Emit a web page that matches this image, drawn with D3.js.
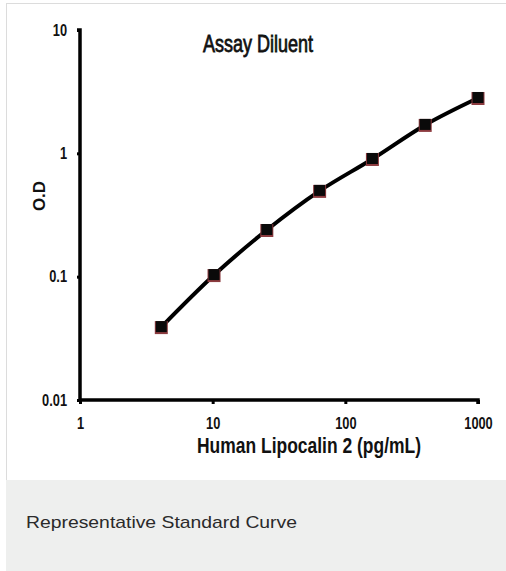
<!DOCTYPE html>
<html>
<head>
<meta charset="utf-8">
<script src="https://cdn.jsdelivr.net/npm/d3@7.9.0/dist/d3.min.js"></script>
<style>
  body { margin: 0; background: #fff; }
  svg { display: block; }
</style>
</head>
<body>
<div id="chart"></div>
<script>
// standard concentrations (pg/mL) and measured O.D
const concentrations = [4.1, 10.24, 25.6, 64, 160, 400, 1000];
const odValues = [0.039, 0.103, 0.239, 0.496, 0.90, 1.70, 2.81];
const xTicks = [1, 10, 100, 1000];
const yTicks = [0.01, 0.1, 1, 10];

const width = 506, height = 571;
const sans = "'Liberation Sans', Arial, sans-serif";

const svg = d3.select("#chart").append("svg")
  .attr("width", width)
  .attr("height", height);

// squeeze text horizontally (no narrow font available)
function condense(sel, factor) {
  sel.each(function () {
    const w = this.getComputedTextLength();
    d3.select(this)
      .attr("textLength", w * factor)
      .attr("lengthAdjust", "spacingAndGlyphs");
  });
}

// card + caption footer
svg.append("rect")
  .attr("x", 6.5).attr("y", 3.5)
  .attr("width", width).attr("height", 477)
  .attr("fill", "#fff").attr("stroke", "#dcdcdc");
svg.append("rect")
  .attr("x", 6).attr("y", 480)
  .attr("width", width).attr("height", 91)
  .attr("fill", "#eeefee");
svg.append("text")
  .attr("x", 26).attr("y", 528)
  .attr("font-family", sans)
  .attr("font-size", 17)
  .attr("fill", "#2a2a2a")
  .attr("textLength", 271)
  .attr("lengthAdjust", "spacingAndGlyphs")
  .text("Representative Standard Curve");

const x = d3.scaleLog().domain([1, 1000]).range([80, 478]);
const y = d3.scaleLog().domain([0.01, 10]).range([400, 30]);

// axes
const yAxis = svg.append("g")
  .attr("transform", "translate(80,0)")
  .call(d3.axisLeft(y).tickValues(yTicks).tickFormat(d3.format("~g")).tickSize(3).tickPadding(10));
const xAxis = svg.append("g")
  .attr("transform", "translate(0,400)")
  .call(d3.axisBottom(x).tickValues(xTicks).tickFormat(d3.format("~g")).tickSize(4).tickPadding(14));

[xAxis, yAxis].forEach(g => {
  g.select(".domain").attr("stroke", "#000").attr("stroke-width", 3.5);
  g.selectAll(".tick line").attr("stroke", "#000").attr("stroke-width", 3);
  g.selectAll(".tick text")
    .attr("fill", "#111")
    .attr("font-family", sans)
    .attr("font-weight", "bold")
    .attr("font-size", 16)
    .call(condense, 0.8);
});
yAxis.select(".domain").attr("d", "M-3,30H0V400");
xAxis.select(".domain").attr("d", "M80,0H478V4");

// fitted curve
const line = d3.line()
  .x((d, i) => x(concentrations[i]))
  .y(d => y(d))
  .curve(d3.curveMonotoneX);

svg.append("path")
  .datum(odValues)
  .attr("d", line)
  .attr("fill", "none")
  .attr("stroke", "#000")
  .attr("stroke-width", 4)
  .attr("stroke-linejoin", "round");

// markers
const pts = svg.append("g").selectAll("g")
  .data(odValues)
  .join("g")
  .attr("transform", (d, i) => `translate(${x(concentrations[i])},${y(d)})`);
pts.append("rect")
  .attr("x", -6.5).attr("y", -6)
  .attr("width", 13).attr("height", 13)
  .attr("fill", "#8c3b3f");
pts.append("rect")
  .attr("x", -5.5).attr("y", -6)
  .attr("width", 11).attr("height", 11)
  .attr("fill", "#0a0a0a");

// titles
svg.append("text")
  .attr("x", 203).attr("y", 52)
  .attr("font-family", sans)
  .attr("font-size", 24)
  .attr("fill", "#111")
  .attr("stroke", "#111")
  .attr("stroke-width", 0.8)
  .attr("textLength", 110)
  .attr("lengthAdjust", "spacingAndGlyphs")
  .text("Assay Diluent");

svg.append("text")
  .attr("transform", "translate(45,196) rotate(-90)")
  .attr("text-anchor", "middle")
  .attr("font-family", sans)
  .attr("font-weight", "bold")
  .attr("font-size", 17)
  .attr("fill", "#111")
  .text("O.D");

svg.append("text")
  .attr("x", 197).attr("y", 453)
  .attr("font-family", sans)
  .attr("font-weight", "bold")
  .attr("font-size", 22)
  .attr("fill", "#111")
  .attr("textLength", 224)
  .attr("lengthAdjust", "spacingAndGlyphs")
  .text("Human Lipocalin 2 (pg/mL)");
</script>
</body>
</html>
